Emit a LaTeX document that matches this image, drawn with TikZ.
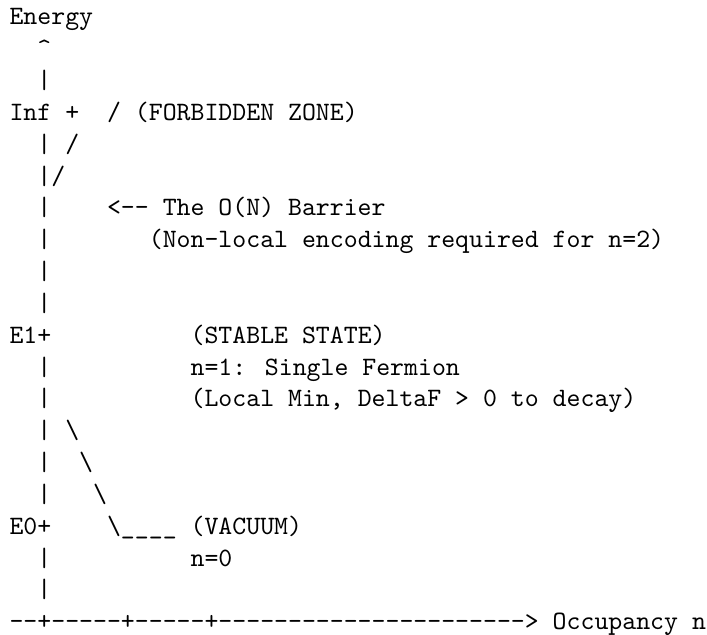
\documentclass[tikz,border=0pt]{standalone}
\begin{document}
\begin{tikzpicture}[x=5.25pt, y=-12pt]
\tikzstyle{txt} = [anchor=base west, inner sep=0pt, font=\ttfamily]
%
\useasboundingbox (-3.4pt,9.4pt) rectangle (263.1pt,-229.6pt);
%
\node (energy) [txt] at (0,0) {Energy};
\node (tip) [txt] at (2,1) {\textasciicircum};
\node (inf) [txt] at (0,3) {Inf +};
\node (wall) [txt] at (7,3) {/ (FORBIDDEN ZONE)};
\node (wall-a) [txt] at (4,4) {/};
\node (wall-b) [txt] at (3,5) {/};
\node (barrier) [txt] at (7,6) {<-- The O(N) Barrier};
\node (barrier-note) [txt] at (10,7) {(Non-local encoding required for n=2)};
\node (e1) [txt] at (0,10) {E1+};
\node (stable) [txt] at (13,10) {(STABLE STATE)};
\node (stable-n) [txt] at (13,11) {n=1: Single Fermion};
\node (stable-note) [txt] at (13,12) {(Local Min, DeltaF > 0 to decay)};
\node (slope-a) [txt] at (4,13) {\textbackslash};
\node (slope-b) [txt] at (5,14) {\textbackslash};
\node (slope-c) [txt] at (6,15) {\textbackslash};
\node (e0) [txt] at (0,16) {E0+};
\node (well) [txt] at (7,16) {\textbackslash\_\_\_\_};
\node (vacuum) [txt] at (13,16) {(VACUUM)};
\node (vacuum-n) [txt] at (13,17) {n=0};
\node (axis) [txt] at (0,19) {--+-----+-----+----------------------> Occupancy n};
%
\foreach \r in {2,4,5,6,7,8,9,11,12,13,14,15,17,18}
  \node (bar-\r) [txt] at (2,\r) {|};
\end{tikzpicture}
\end{document}
